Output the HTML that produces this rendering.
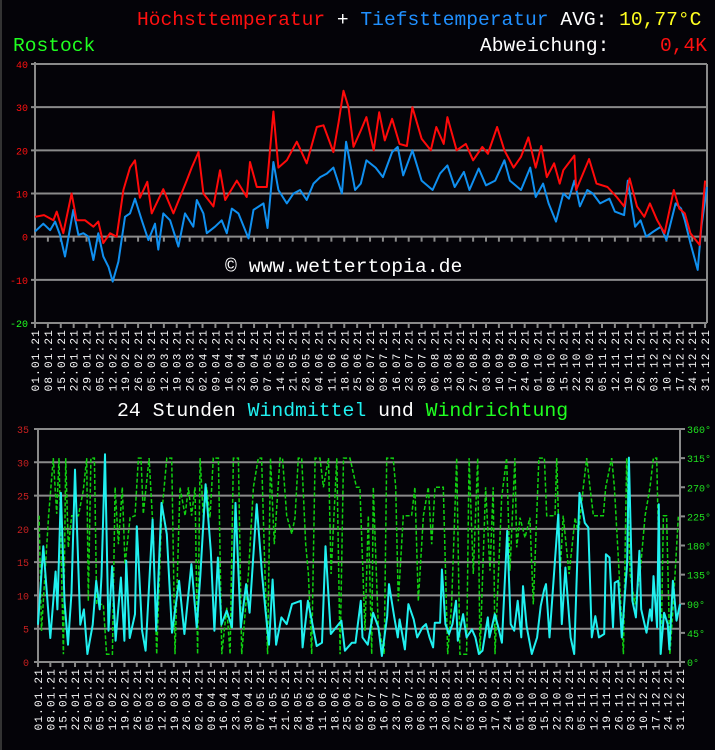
<!DOCTYPE html>
<html><head><meta charset="utf-8">
<style>
html,body{margin:0;padding:0;background:#040308;}
svg{display:block;}
text{font-family:"Liberation Mono","DejaVu Sans Mono",monospace;}
</style></head>
<body>
<svg id="c" width="715" height="750" xmlns="http://www.w3.org/2000/svg">
<rect x="0" y="0" width="715" height="750" fill="#040308"/>
<line x1="1" y1="0" x2="1" y2="750" stroke="#333" stroke-width="2"/>
<text x="137" y="25" font-size="19.6"><tspan fill="#ff1010">Höchsttemperatur</tspan><tspan fill="#fff"> + </tspan><tspan fill="#2090ff">Tiefsttemperatur</tspan><tspan fill="#fff"> AVG: </tspan><tspan fill="#ffff20">10,77°C</tspan></text>
<text x="13" y="51" font-size="19.6" fill="#20ff20">Rostock</text>
<text x="480" y="51" font-size="19.6" fill="#fff">Abweichung:</text>
<text x="707" y="51" font-size="19.6" fill="#ff1010" text-anchor="end">0,4K</text>
<text x="117" y="416" font-size="19.8"><tspan fill="#fff">24 Stunden </tspan><tspan fill="#20f0f0">Windmittel</tspan><tspan fill="#fff"> und </tspan><tspan fill="#20ff20">Windrichtung</tspan></text>
<g id="topchart"></g>
<g id="botchart"></g>
<text x="225" y="272" font-size="19.8" fill="#fff">© www.wettertopia.de</text>
</svg>
<script>
// ---- temperature data (day of year, °C) ----
const tmaxDays=[0,4.9,10,11.8,15.4,19.9,22.6,27.2,31.7,34.4,37.1,40.8,44.4,48,51.6,54.3,57,61,63.4,69.7,75.2,82.4,85.1,88.8,91.5,96.9,100.5,103.3,109.6,115,116.8,120.5,125.9,129.5,132.2,136.8,142.2,147.6,153.1,156.7,162.1,164.9,167.6,170.3,173,177,180,184,187,190,194,198,202,205,210,215,218,222,224,229,234,238,243,246,251,255,260,264,268,272,275,278,282,285,287,293,294,301,305,311,316,320,323,327,331,334,338,342,347,350,353,356,361,364];
const tmaxVals=[4.6,5,3.8,5.8,0.8,10,3.8,3.8,2.3,3.5,-1.5,0.8,0,10.8,16,17.7,9,12.7,5.4,11,5.4,13,16,19.6,10,7,15.4,8.5,13,9.2,17.3,11.5,11.5,29,16,17.7,22,17,25.4,25.8,19.6,26.5,33.8,30,20.8,24.6,27.7,20,28.8,22.3,27.3,21.5,21,30,22.7,20,25.4,21.5,27.7,20,21.5,17.7,20.8,19.2,25.4,20,16,18.5,23,16,21,13.8,17,12.3,15.4,18.8,10.8,18,12.3,11.5,9.2,7,13.5,7,4.6,7.7,3.8,0.8,10.8,6.5,5.4,0.8,-1.9,13];
const tminDays=[0,4.5,8.2,10.9,13.6,16.3,20.8,23.6,26.3,29,31.7,34.4,37.1,39.9,42.2,45.3,48.9,51.6,54.3,58,61.6,65.2,67,69.7,73.4,77.9,81.5,86,87.9,91.5,93.3,97.8,101.4,104.2,106.9,110.5,116,118.7,124.1,126.3,129.5,132.2,136.8,140.4,144,147.6,151.3,154.9,158.5,162.1,166.7,169,173.9,177,180,185,189,194,197,200,205,210,216,220,224,228,233,236,241,245,250,255,258,264,269,272,276,279,283,287,290,293,296,300,303,307,312,315,320,322,326,329,332,336,340,343,348,351,353,356,360,362,365];
const tminVals=[1.2,3,1.5,3.5,0.4,-4.6,6.2,0.4,0.8,0,-5.4,0.8,-4.6,-7,-10.4,-5.8,4.6,5.4,8.8,3.8,-0.8,3,-3,5.4,3.8,-2.3,5.4,2.3,8.5,5.4,0.8,2.3,3.8,0.8,6.5,5.4,-0.4,6.2,7.7,2,17.3,10.8,7.7,10,10.8,8.5,12.3,13.8,14.6,16,10,22,10.8,12.3,17.7,16,13.8,19.6,20.8,14.2,20,13,10.8,14.6,16.5,11.5,15,10.8,15.8,11.9,13,17.7,13,10.8,16,9.2,12.3,7.7,3.5,10,8.8,13,7,10.8,10,7.7,8.8,5.8,5,13,2.3,3.8,0,1.2,2.3,-0.8,7.7,6.5,3.8,-1.5,-7.7,2.3,11.5];
const tempTicks=[40,30,20,10,0,-10,-20];
// ---- wind data ----
const windDays=[0,3,7,10,11,13,15,17,19,21,24,26,28,31,33,35,36,38,40,42,44,47,49,50,52,55,56,59,61,65,67,70,73,76,80,83,87,90,92,95,98,100,102,104,107,110,112,115,118,120,124,127,129,131,133,135,138,141,144,149,150,153,158,161,163,166,169,172,174,178,180,183,184,187,190,193,195,198,199,202,204,205,208,210,213,215,218,220,222,224,225,228,229,231,233,235,237,238,241,243,246,248,250,252,255,256,259,261,263,266,268,270,272,274,275,277,280,283,285,287,288,290,293,295,297,299,302,304,307,310,312,314,316,318,321,322,324,326,327,329,331,334,335,337,339,341,342,345,347,348,349,351,352,353,355,357,358,360,362,364];
const windVals=[5.6,17.4,3.6,13.6,7.9,25.4,9.1,2.6,10.4,28.9,5.6,7.9,1.2,5.6,12.2,7.9,12.9,31.2,4.7,14.4,3.2,12.7,3.2,15.2,3.6,7.2,20.4,4.7,1.7,21.4,4.7,23.9,19.2,4.4,12.2,4.2,14.7,5.2,12.9,26.7,16.7,4.7,15.7,5.6,7.7,5.2,23.9,5.2,11.7,7.4,23.7,13.2,7.7,2.6,12.4,2.6,6.7,5.7,8.7,9.2,2.2,9.2,2.4,2.9,17.4,4.2,5.2,6.2,1.7,2.9,2.9,9.2,3.7,2.6,7.4,5.2,0.9,6.9,11.7,6.7,3.7,6.4,1.9,8.7,6.4,3.7,5.2,5.7,3.7,2.2,5.9,5.9,13.9,5.7,4.2,5.7,9.2,3.2,7.2,3.7,4.9,3.7,1.2,1.7,6.7,3.7,7.2,5.2,2.9,19.7,5.7,4.7,9.2,3.7,11.4,5.4,1.2,3.7,8.4,10.9,11.7,3.7,14.9,22.2,5.7,14.2,3.7,1.2,25.4,20.9,20.2,3.7,6.9,3.7,4.2,16.2,15.7,5.2,11.9,12.2,3.7,14.7,30.7,9.2,6.7,16.7,7.9,4.4,7.9,6.2,12.9,5.2,23.7,1.2,7.4,5.7,1.9,12.2,6.2,8.7];
const dirDays=[0.6,2,6,8.7,10.6,11.9,14.4,15.7,17.2,19.1,22.9,25.7,27.6,28.5,30,32,33.3,37,38.9,42.2,43.7,45.6,47.8,49.3,52.2,55,56.9,58.4,59.7,63,65.4,67.3,70.1,73,75.8,77.7,80.5,83.4,85.3,87.1,89,90.5,91.9,93.8,95.7,97.5,99.4,102.3,104.2,107,108.9,110.8,113.6,115.5,119.3,122.1,124.9,126.8,128.7,130.2,131.8,134,137.2,138.6,141,143.9,145.7,147.6,149.5,151.8,153.3,155.2,157.1,159.9,161.8,164.7,166.2,169.4,171.3,173.2,176.9,180.6,182.5,185.4,187.3,189.2,190.1,192.9,196.3,197.7,201.4,202.8,204.3,207.1,211.8,213.7,215.6,218.5,221.3,223.2,225.1,227.9,229.8,232.3,234.5,237.4,239.2,243,244.4,246.8,249.3,250.6,253.8,256.3,258.1,259.1,262.9,265.7,267.6,270.4,271.4,273.3,276.1,278.9,280.8,284,287.1,288.4,293.1,294.1,296,297.8,301.1,304.5,306.4,309.2,311.1,313,314.9,316.8,320.5,321.9,325.3,326.8,329,331.9,333.8,335.7,338.5,341.3,344.2,347,348.9,350.8,353.2,354.6,356.4,358.3,360.2,363.1];
const dirVals=[226,48,226,315,229,315,12,315,177,226,226,265,315,94,315,315,89,89,12,12,270,182,270,151,223,226,315,315,229,315,198,12,226,315,315,12,270,226,270,226,270,12,315,223,270,223,315,315,12,84,12,315,315,12,136,270,315,315,136,12,315,182,315,315,226,198,223,315,315,182,136,12,315,315,270,315,136,315,12,315,315,270,270,48,226,12,270,58,12,315,315,270,94,226,226,270,94,226,270,182,270,270,270,12,89,315,12,12,315,136,315,12,270,141,270,12,255,315,141,315,177,223,192,223,89,315,315,226,226,315,136,226,136,223,198,270,315,270,226,226,226,270,315,270,161,12,315,136,89,136,226,270,315,315,12,226,226,12,89,226];
const windTicks=[35,30,25,20,15,10,5,0];
const dirTicks=[360,315,270,225,180,135,90,45,0];
const labelDays=[];for(let i=0;i<53;i++)labelDays.push(i*7);labelDays[52]=364;

const NS="http://www.w3.org/2000/svg";
function mk(tag,attrs,parent){const e=document.createElementNS(NS,tag);for(const k in attrs)e.setAttribute(k,attrs[k]);parent.appendChild(e);return e;}
function fmt(d){const dt=new Date(Date.UTC(2021,0,1+d));return String(dt.getUTCDate()).padStart(2,'0')+'.'+String(dt.getUTCMonth()+1).padStart(2,'0')+'.21';}
function path(days,vals,fx,fy){return days.map((d,i)=>(i?'L':'M')+fx(d).toFixed(1)+','+fy(vals[i]).toFixed(1)).join('');}

// ---- top chart ----
const T={x0:35,x1:706,y0:64,y1:323,vmax:40,vmin:-20};
const tx=d=>T.x0+d*(T.x1-T.x0)/364.5;
const ty=v=>T.y0+(T.vmax-v)*(T.y1-T.y0)/(T.vmax-T.vmin);
const topG=document.getElementById('topchart');
tempTicks.forEach(v=>{
  const l=mk('line',{x1:T.x0-4,x2:707,y1:ty(v),y2:ty(v),stroke:'#8a8a8a','stroke-width':2},topG);
  
  
  const t=mk('text',{x:28,y:ty(v)+4,'font-size':10,'text-anchor':'end',fill:v===-20?'#20ff20':'#ff1010'},topG);
  t.textContent=v;
  
  
});
const ta=mk('line',{x1:T.x0,x2:T.x0,y1:T.y0-2,y2:T.y1+2,stroke:'#8a8a8a','stroke-width':2},topG);


const tr=mk('line',{x1:707,x2:707,y1:T.y0,y2:T.y1,stroke:'#8a8a8a','stroke-width':2},topG);


labelDays.forEach(d=>{
  const x=tx(d);
  const k=mk('line',{x1:x,x2:x,y1:ty(0),y2:ty(0)+5,stroke:'#8a8a8a','stroke-width':2},topG);
  
  
  const k2=mk('line',{x1:x,x2:x,y1:T.y1,y2:T.y1+5,stroke:'#8a8a8a','stroke-width':2},topG);
  
  
  const t=mk('text',{x:0,y:0,'font-size':11,'letter-spacing':1.2,fill:'#fff','text-anchor':'end',transform:`translate(${x+4},${T.y1+6}) rotate(-90)`},topG);
  t.textContent=fmt(d);
  
  
});
const pmin=mk('path',{d:path(tminDays,tminVals,tx,ty),fill:'none',stroke:'#1090f0','stroke-width':2,'stroke-linejoin':'round'},topG);


const pmax=mk('path',{d:path(tmaxDays,tmaxVals,tx,ty),fill:'none',stroke:'#ff0a0a','stroke-width':2,'stroke-linejoin':'round'},topG);



// ---- bottom chart ----
const B={x0:38,x1:680,y0:429,y1:662};
const bx=d=>B.x0+d*(B.x1-B.x0)/364;
const by=v=>B.y1-v*(B.y1-B.y0)/35;
const bd=v=>B.y1-v*(B.y1-B.y0)/360;
const botG=document.getElementById('botchart');
windTicks.forEach(v=>{
  const l=mk('line',{x1:B.x0-4,x2:B.x1,y1:by(v),y2:by(v),stroke:'#8a8a8a','stroke-width':2},botG);
  
  
  const t=mk('text',{x:29,y:by(v)+4,'font-size':10,'text-anchor':'end',fill:'#c82020'},botG);
  t.textContent=v;
  
  
});
dirTicks.forEach(v=>{
  const k=mk('line',{x1:B.x1,x2:B.x1+5,y1:bd(v),y2:bd(v),stroke:'#8a8a8a','stroke-width':2},botG);
  
  
  const t=mk('text',{x:B.x1+7,y:bd(v)+4,'font-size':10,fill:'#20e020'},botG);
  t.textContent=v+'°';
  
  
});
const ba=mk('line',{x1:B.x0,x2:B.x0,y1:B.y0,y2:B.y1+2,stroke:'#8a8a8a','stroke-width':2},botG);


const br=mk('line',{x1:B.x1,x2:B.x1,y1:B.y0,y2:B.y1+2,stroke:'#8a8a8a','stroke-width':2},botG);


labelDays.forEach(d=>{
  const x=bx(d);
  const k=mk('line',{x1:x,x2:x,y1:B.y1,y2:B.y1+5,stroke:'#8a8a8a','stroke-width':2},botG);
  
  
  const t=mk('text',{x:0,y:0,'font-size':11,'letter-spacing':1.2,fill:'#fff','text-anchor':'end',transform:`translate(${x+4},${B.y1+6}) rotate(-90)`},botG);
  t.textContent=fmt(d);
  
  
});
const pd=mk('path',{d:path(dirDays,dirVals,bx,bd),fill:'none',stroke:'#10d010','stroke-width':1.5,'stroke-dasharray':'4,2'},botG);


const pw=mk('path',{d:path(windDays,windVals,bx,by),fill:'none',stroke:'#20f0f0','stroke-width':2,'stroke-linejoin':'round'},botG);


</script>
</body></html>
